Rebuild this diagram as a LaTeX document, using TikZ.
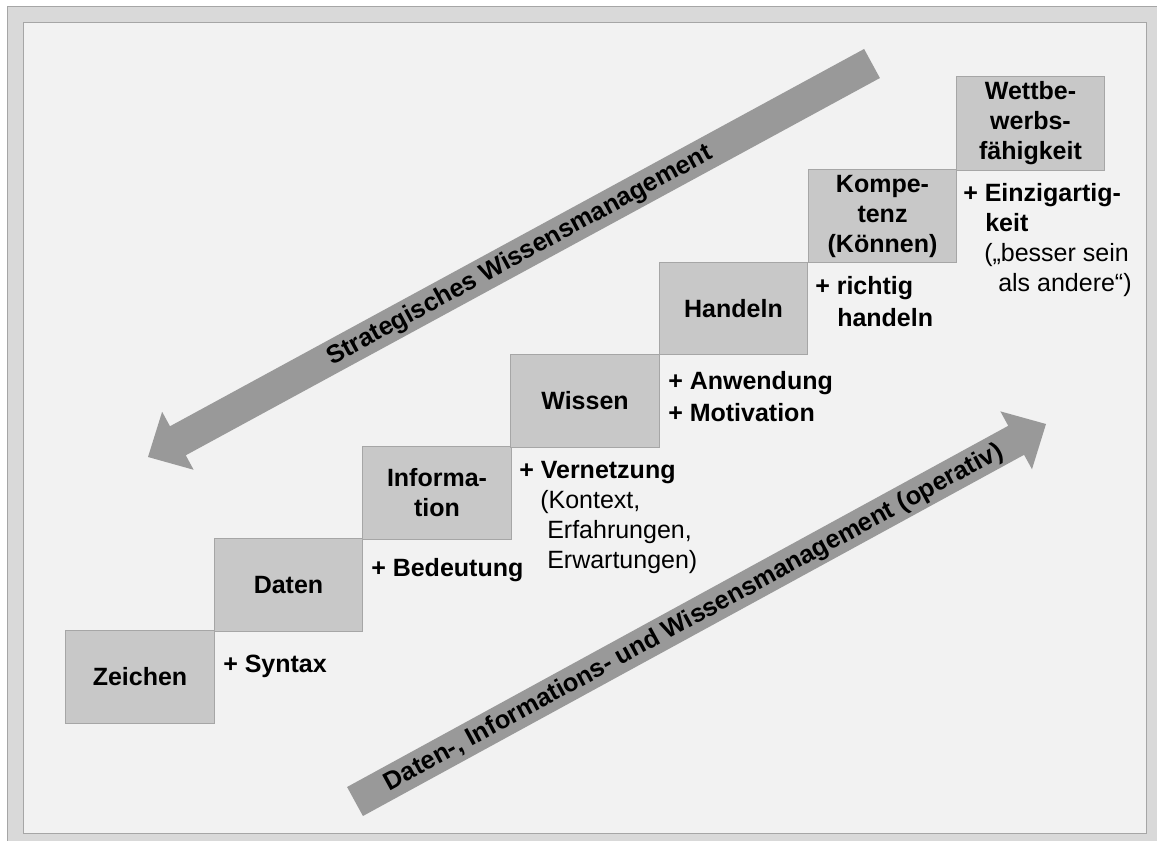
\documentclass[tikz,border=0pt]{standalone}
\usepackage{fontspec}
\setmainfont{Liberation Sans}
\usetikzlibrary{calc}

\definecolor{pagegray}{HTML}{D9D9D9}
\definecolor{panelgray}{HTML}{F2F2F2}
\definecolor{edgegray}{HTML}{A6A6A6}
\definecolor{stepfill}{HTML}{C8C8C8}
\definecolor{arrowgray}{HTML}{999999}

% broad flat arrow from #1 (middle of the tail) to #2 (tip)
\newcommand{\broadarrow}[2]{%
  \coordinate (#2-base) at ($(#2)!25.5pt!(#1)$);
  \fill[arrowgray]
    ($(#1)!12.4pt!90:(#2)$) -- ($(#2-base)!12.4pt!90:(#2)$) --
    ($(#2-base)!24.75pt!90:(#2)$) -- (#2) --
    ($(#2-base)!24.75pt!-90:(#2)$) -- ($(#2-base)!12.4pt!-90:(#2)$) --
    ($(#1)!12.4pt!-90:(#2)$) -- cycle;
}

\tikzset{
  stepbox/.style={draw=edgegray, line width=0.75pt, fill=stepfill,
    minimum width=111.4pt, minimum height=69.4pt, inner sep=0pt,
    align=center, font=\bfseries\fontsize{18.75pt}{22.5pt}\selectfont},
  gain/.style={anchor=north west, inner sep=0pt, align=left,
    font=\fontsize{18.75pt}{22.5pt}\selectfont},
  flowtext/.style={font=\bfseries\fontsize{19.1pt}{22pt}\selectfont,
    inner sep=0pt, rotate=28.6},
}

\begin{document}
\begin{tikzpicture}[x=0.75pt, y=-0.75pt]
  \useasboundingbox (0,0) rectangle (1157,840);
  \fill[white] (0,0) rectangle (1157,840);
  \filldraw[fill=pagegray, draw=edgegray, line width=0.75pt] (7,6) rectangle (1175,855);
  \filldraw[fill=panelgray, draw=edgegray, line width=0.75pt] (23,22) rectangle (1146,833);

  % the two broad arrows
  \coordinate (stratTail) at (872,63.5);
  \coordinate (stratTip) at (148,457);
  \broadarrow{stratTail}{stratTip}
  \coordinate (opTail) at (355,801.5);
  \coordinate (opTip) at (1046,424);
  \broadarrow{opTail}{opTip}

  \node[flowtext] (stratLabel) at (520,256) {Strategisches Wissensmanagement};
  \node[flowtext] (opLabel) at (694,618) {Daten-, Informations- und Wissensmanagement (operativ)};

  % the staircase
  \node[stepbox] (zeichen) at (140,677) {Zeichen};
  \node[stepbox] (daten) at (288.5,585) {Daten};
  \node[stepbox] (information) at (437,493) {Informa-\\tion};
  \node[stepbox] (wissen) at (585,401) {Wissen};
  \node[stepbox] (handeln) at (733.5,308.5) {Handeln};
  \node[stepbox] (kompetenz) at (882.5,216) {Kompe-\\tenz\\(Können)};
  \node[stepbox, minimum height=70.5pt] (wettbewerb) at (1030.5,123) {Wettbe-\\werbs-\\fähigkeit};

  % what each step adds
  \node[gain] (syntax) at (223,655) {\textbf{+ Syntax}};
  \node[gain] (bedeutung) at (371,558) {\textbf{+ Bedeutung}};
  \node[gain] (vernetzung) at (519,461) {\textbf{+ Vernetzung}\\
    \hspace*{15.75pt}(Kontext,\\
    \hspace*{21pt}Erfahrungen,\\
    \hspace*{21pt}Erwartungen)};
  \node[gain, font=\fontsize{18.75pt}{24pt}\selectfont] (anwendung) at (668,371) {\textbf{+ Anwendung}\\\textbf{+ Motivation}};
  \node[gain, font=\fontsize{18.75pt}{24pt}\selectfont] (richtig) at (815,276) {\textbf{+ richtig}\\\hspace*{16.5pt}\textbf{handeln}};
  \node[gain] (einzig) at (963,183) {\textbf{+ Einzigartig-}\\
    \hspace*{16.5pt}\textbf{keit}\\
    \hspace*{15.75pt}(„besser sein\\
    \hspace*{26.25pt}als andere“)};
\end{tikzpicture}
\end{document}
